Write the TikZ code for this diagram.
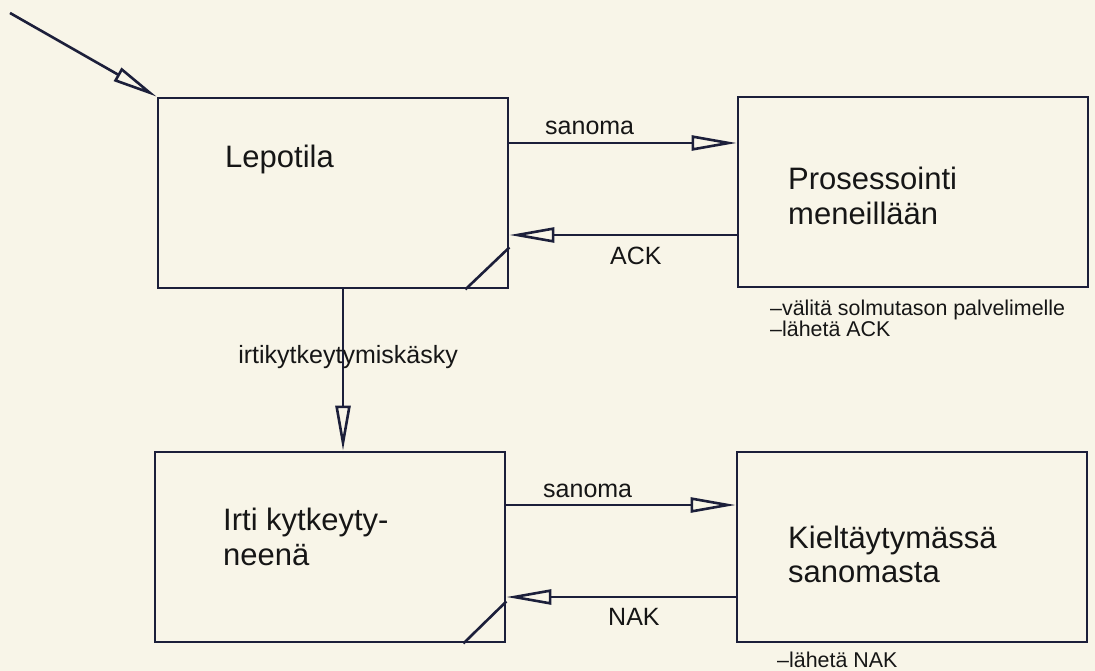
\documentclass[tikz,border=0pt]{standalone}
\usepackage{fontspec}
\setmainfont{Liberation Sans}
\usetikzlibrary{arrows.meta,calc}
\definecolor{ink}{HTML}{1C1F3A}
\definecolor{txt}{HTML}{161616}
\definecolor{paper}{HTML}{F8F5E8}
\tikzset{
  statebox/.style={draw=ink, line width=2.8pt, minimum width=350pt, minimum height=190pt, inner sep=0pt},
  arr/.style={draw=ink, line width=2.6pt, -{Triangle[open, length=45pt, width=15pt, line width=2.6pt]}},
  corner/.style={draw=ink, line width=2.6pt},
  statetxt/.style={anchor=base west, inner sep=0pt, text=txt, font=\fontsize{31}{35}\selectfont, align=left},
  lbl/.style={inner sep=0pt, text=txt, font=\fontsize{25}{30}\selectfont},
  note/.style={anchor=base west, inner sep=0pt, text=txt, font=\fontsize{21.4}{21}\selectfont}
}
\begin{document}
\begin{tikzpicture}[x=1pt,y=-1pt]
\fill[paper] (0,0) rectangle (1095,671);
\useasboundingbox (0,0) rectangle (1095,671);

% boxes
\node[statebox] (b1) at (333,193) {};
\node[statebox] (b2) at (913,192) {};
\node[statebox] (b3) at (330,547) {};
\node[statebox] (b4) at (912,547) {};

% state texts
\node[statetxt] (t1) at (225,168) {Lepotila};
\node[statetxt] (t2a) at (788,190) {Prosessointi};
\node[statetxt] (t2b) at (788,225) {meneillään};
\node[statetxt] (t3a) at (223,530) {Irti kytkeyty-};
\node[statetxt] (t3b) at (223,565) {neenä};
\node[statetxt] (t4a) at (788,548) {Kieltäytymässä};
\node[statetxt] (t4b) at (788,582) {sanomasta};

% corner marks
\draw[corner] ($(b1.south east)+(-44,0)$) -- ($(b1.south east)+(0,-42)$);
\draw[corner] ($(b3.south east)+(-43,0)$) -- ($(b3.south east)+(0,-42)$);

% entry arrow
\coordinate (start) at (10,13);
\draw[arr] (start) -- (b1.north west);

% horizontal connectors
\draw[arr] ([yshift=50pt]b1.east) -- ([yshift=50pt]b1.east -| b2.west);
\draw[arr] ([yshift=-43pt]b2.west) -- ([yshift=-43pt]b2.west -| b1.east);
\draw[arr] ([yshift=42pt]b3.east) -- ([yshift=42pt]b3.east -| b4.west);
\draw[arr] ([yshift=-50pt]b4.west) -- ([yshift=-50pt]b4.west -| b3.east);

% vertical connector
\draw[arr] ([xshift=10pt]b1.south) -- ([xshift=10pt]b1.south |- b3.north);

% connector labels
\node[lbl, anchor=base west] (l1) at (545,135) {sanoma};
\node[lbl, anchor=base west] (l2) at (610,265) {ACK};
\node[lbl, anchor=base east] (l3) at (458,363) {irtikytkeytymiskäsky};
\node[lbl, anchor=base west] (l4) at (543,497) {sanoma};
\node[lbl, anchor=base west] (l5) at (608,625) {NAK};

% notes
\node[note] (n1) at (770,315) {–välitä solmutason palvelimelle};
\node[note] (n2) at (770,336) {–lähetä ACK};
\node[note] (n3) at (777,667) {–lähetä NAK};
\end{tikzpicture}
\end{document}
